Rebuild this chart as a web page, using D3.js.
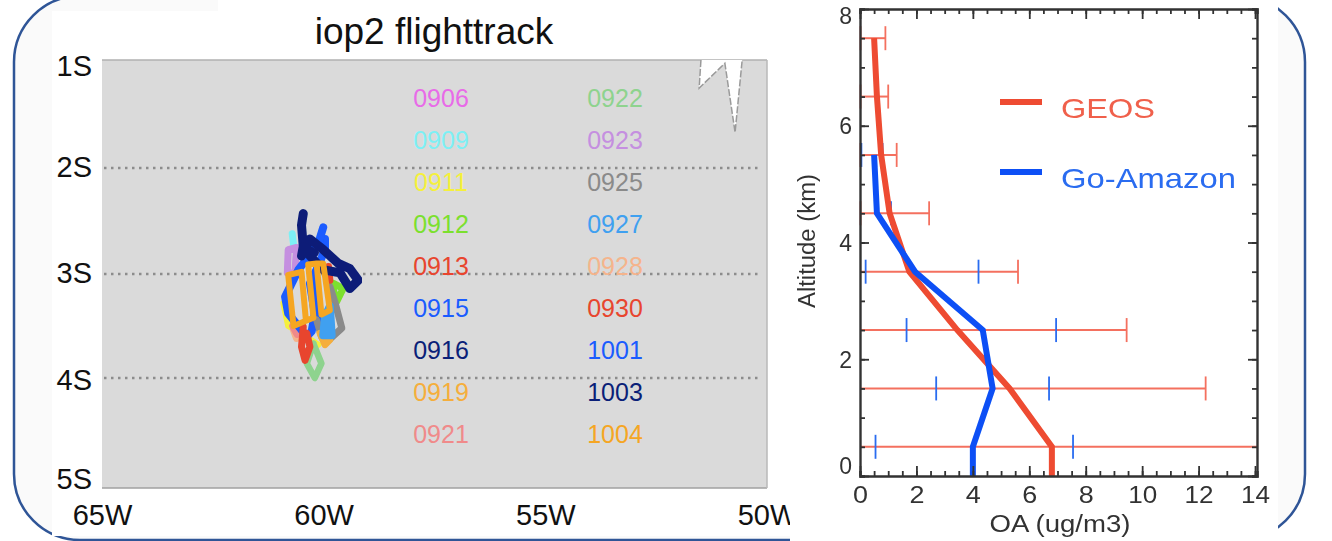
<!DOCTYPE html>
<html><head><meta charset="utf-8">
<script src="https://cdn.jsdelivr.net/npm/d3@7"></script>
<style>html,body{margin:0;padding:0;background:#fff}svg{display:block}text{font-family:"Liberation Sans",Arial,sans-serif}</style>
</head><body><div id="c"></div>
<script>
// ---- Left map data (lon, lat)
const latTicks=[-1,-2,-3,-4,-5];
const latLabels=["1S","2S","3S","4S","5S"];
const lonTicks=[-65,-60,-55,-50];
const lonLabels=["65W","60W","55W","50W"];
const gridLats=[-2,-3,-4];
const coast=[[-51.49,-1],[-51.53,-1.26],[-50.95,-1.03],[-50.72,-1.67],[-50.56,-1]];
const dates1=["0906","0909","0911","0912","0913","0915","0916","0919","0921"];
const colors1=["#e86be8","#7df0f5","#f5f03c","#7be02e","#e8452e","#1a5cff","#0a1f78","#f5ae3c","#f08a8a"];
const dates2=["0922","0923","0925","0927","0928","0930","1001","1003","1004"];
const colors2=["#8ed38e","#c58fe0","#8a8a8a","#3fa0f0","#f5b48c","#e8452e","#1a5cff","#0a1f78","#f5a623"];
const t0906=[[-60.42,-2.82],[-60.31,-2.74]];
const t0909=[[-60.71,-2.62],[-60.68,-2.72],[-60.6,-2.8]];
const t0911=[[-60.91,-3.28],[-60.8,-3.5],[-60.4,-3.6],[-60.12,-3.68]];
const t0912=[[-59.78,-3.09],[-59.56,-3.14],[-59.71,-3.27],[-59.8,-3.12]];
const t0913=[[-60.46,-3.51],[-60.5,-3.7],[-60.42,-3.83],[-60.31,-3.7],[-60.38,-3.57]];
const t0915=[[-60.01,-2.56],[-60.12,-2.71],[-60.46,-2.9],[-60.57,-2.96],[-60.87,-3.22],[-60.8,-3.38],[-60.38,-3.6],[-60.27,-3.55],[-60.2,-3.38],[-60.31,-3.09],[-60.08,-2.9]];
const t0916=[[-60.46,-2.43],[-60.5,-2.54],[-60.46,-2.74],[-60.5,-2.83],[-60.31,-2.67],[-60.01,-2.77],[-59.67,-2.9],[-59.41,-2.95],[-59.22,-3.06],[-59.41,-3.14],[-59.63,-2.99],[-60.01,-2.96],[-60.31,-2.83]];
const t0919=[[-60.08,-3.57],[-59.97,-3.68],[-59.86,-3.63],[-59.89,-3.47]];
const t0921=[[-60.7,-3.5],[-60.6,-3.58]];
const t0922=[[-60.23,-3.67],[-60.05,-3.86],[-60.2,-4],[-60.38,-3.86],[-60.23,-3.67]];
const t0923=[[-60.61,-2.75],[-60.8,-2.77],[-60.82,-2.99],[-60.65,-2.99],[-60.61,-2.75]];
const t0925=[[-60.16,-3.44],[-60.05,-3.6],[-59.95,-3.66],[-59.59,-3.52],[-59.74,-3.28],[-59.86,-3.12]];
const t0927=[[-59.97,-3.41],[-60.01,-3.59],[-59.82,-3.59],[-59.86,-3.31],[-59.97,-3.41]];
const t0928=[[-60.68,-3.54],[-60.61,-3.62],[-60.46,-3.57]];
const t0930=[[-59.89,-2.93],[-59.86,-3.06]];
const t1001=[[-59.97,-2.67],[-59.97,-2.77],[-60.2,-3.0],[-60.1,-3.5]];
const t1003=[[-60.46,-2.74],[-60.2,-2.8]];
const t1004=[[-60.4,-3.45],[-60.68,-3.5],[-60.8,-3.01],[-60.5,-2.98],[-60.4,-3.45],[-60.23,-3.42],[-60.35,-2.91],[-60.16,-2.9],[-60.05,-3.39],[-59.86,-3.35],[-60.01,-2.9],[-60.16,-2.9]];
// draw order, bottom to top
const trackOrder=[["0911",t0911,"#f5f03c",6],["0909",t0909,"#7df0f5",7],["0928",t0928,"#f5b48c",7],["0921",t0921,"#f08a8a",7],["0923",t0923,"#c58fe0",7],["0906",t0906,"#c58fe0",6],["1001",t1001,"#1a5cff",8],["0915",t0915,"#1a5cff",8],["0912",t0912,"#7be02e",7],["0925",t0925,"#8a8a8a",7],["0919",t0919,"#f5ae3c",7],["0927",t0927,"#3fa0f0",8],["0922",t0922,"#8ed38e",6.5],["0913",t0913,"#e8452e",7],["0930",t0930,"#e8452e",7],["0916",t0916,"#0a1f78",9],["1003",t1003,"#0a1f78",8],["1004",t1004,"#f5a623",6]];

// ---- Right profile data
const xTicks=[0,2,4,6,8,10,12,14];
const yTicks=[0,2,4,6,8];
const levels=[0.5,1.5,2.5,3.5,4.5,5.5,6.5,7.5];
const geosAlt=[0,0.5,1.5,2.5,3.5,4.5,5.5,6.5,7.5];
const geosOA=[6.8,6.8,5.3,3.45,1.75,1.05,0.75,0.6,0.5];
const amazonAlt=[0,0.5,1.5,2.5,3.5,4.5,5.5];
const amazonOA=[4.0,4.0,4.7,4.35,1.95,0.6,0.5];
const geosHi=[14.1,12.25,9.45,5.6,2.45,1.3,1.0,0.9];
const amazonLo=[0.55,2.7,1.65,0.2,null,0.05,null,null];
const amazonHi=[7.55,6.7,6.95,4.2,1.1,0.8,null,null];

const W=1332,H=541;
const svg=d3.select("#c").append("svg").attr("width",W).attr("height",H);
const defs=svg.append("defs");
defs.append("filter").attr("id","soft").attr("x","-5%").attr("y","-5%").attr("width","110%").attr("height","110%").append("feGaussianBlur").attr("stdDeviation",0.5);

// slide background
svg.append("rect").attr("x",14).attr("y",-4).attr("width",1291).attr("height",544).attr("rx",66).attr("ry",66)
  .attr("fill","#fafafa").attr("stroke","#2f5597").attr("stroke-width",2.5);
svg.append("rect").attr("x",52).attr("y",11).attr("width",738).attr("height",525).attr("fill","#fff");
svg.append("rect").attr("x",218).attr("y",0).attr("width",1060).attr("height",11).attr("fill","#fff");
svg.append("rect").attr("x",790).attr("y",0).attr("width",488).attr("height",541).attr("fill","#fff");

// ---- map
const mx=d3.scaleLinear().domain([-65,-50]).range([102,767]);
const my=d3.scaleLinear().domain(latTicks).range([60,168,274,378,488]);
const map=svg.append("g");
map.append("rect").attr("x",mx(-65)).attr("y",my(-1)).attr("width",mx(-50)-mx(-65)).attr("height",my(-5)-my(-1)).attr("fill","#dadada");
map.append("line").attr("x1",102).attr("x2",767).attr("y1",60).attr("y2",60).attr("stroke","#b0b0b0").attr("stroke-width",1.5);
map.append("line").attr("x1",102).attr("x2",767).attr("y1",488).attr("y2",488).attr("stroke","#a0a0a0").attr("stroke-width",1.5);
map.append("line").attr("x1",767).attr("x2",767).attr("y1",60).attr("y2",488).attr("stroke","#b8b8b8").attr("stroke-width",1.5);
map.selectAll(".grid").data(gridLats).join("line").attr("x1",104).attr("x2",760)
  .attr("y1",d=>my(d)).attr("y2",d=>my(d)).attr("stroke","#8c8c8c").attr("stroke-width",2.5).attr("stroke-dasharray","2.5,4.5");
map.append("path").attr("d",d3.line().x(d=>mx(d[0])).y(d=>my(d[1]))(coast)).attr("fill","#fff")
  .attr("stroke","#9a9a9a").attr("stroke-width",1.5).attr("stroke-dasharray","7,2");
const tl=d3.line().x(d=>mx(d[0])).y(d=>my(d[1])).curve(d3.curveLinear);
map.append("g").attr("filter","url(#soft)").selectAll(".track").data(trackOrder).join("path").attr("d",d=>tl(d[1])).attr("fill","none")
  .attr("stroke",d=>d[2]).attr("stroke-width",d=>d[3]).attr("stroke-linejoin","round").attr("stroke-linecap","round");
function dateCol(dates,colors,cx){
  map.selectAll(null).data(dates).join("text").attr("x",cx).attr("y",(d,i)=>98+i*42+9)
   .attr("text-anchor","middle").attr("font-size",25).attr("fill",(d,i)=>colors[i]).text(d=>d);
}
dateCol(dates1,colors1,441);
dateCol(dates2,colors2,615);
map.append("text").attr("x",434).attr("y",44).attr("text-anchor","middle").attr("font-size",37).attr("fill","#111").text("iop2 flighttrack");
const mapY=d3.axisLeft(my).tickValues(latTicks).tickSize(0).tickPadding(10).tickFormat((d,i)=>latLabels[i]);
const gy=map.append("g").attr("transform","translate(102,0)").call(mapY);
gy.select(".domain").remove();
gy.selectAll("text").attr("font-size",29).attr("fill","#111").style("font-family",'"Liberation Sans"').attr("dy",(d,i)=>[".55em",".3em",".3em",".4em",".0em"][i]);
const mapX=d3.axisBottom(mx).tickValues(lonTicks).tickSize(0).tickPadding(16).tickFormat((d,i)=>lonLabels[i]);
const gx=map.append("g").attr("transform","translate(0,488)").call(mapX);
gx.select(".domain").remove();
gx.selectAll("text").attr("font-size",29).attr("fill","#111").style("font-family",'"Liberation Sans"');
// 50W is cut off by the panel on the right
svg.append("rect").attr("x",790).attr("y",495).attr("width",40).attr("height",46).attr("fill","#fff");

// ---- profile
const px=d3.scaleLinear().domain([0,14.07]).range([860,1257]);
const py=d3.scaleLinear().domain([0,8]).range([476,9]);
const plot=svg.append("g").attr("filter","url(#soft)");
defs.append("clipPath").attr("id","pc").append("rect").attr("x",858).attr("y",9).attr("width",400).attr("height",467);
const pl=plot.append("g").attr("clip-path","url(#pc)");
const tc="#333";
function frameAxes(){
  const minorX=d3.range(0,14.01,0.5), minorY=d3.range(0,8.01,0.5);
  const mk=(axis,vals,size)=>axis.tickValues(vals).tickSize(size).tickFormat("");
  const style=g=>{g.selectAll("line").attr("stroke",tc).attr("stroke-width",1.8);g.select(".domain").attr("stroke",tc).attr("stroke-width",2.4);};
  plot.append("g").attr("transform","translate(0,476)").call(mk(d3.axisBottom(px).tickSizeOuter(0),minorX,-5)).call(style);
  plot.append("g").attr("transform","translate(0,9)").call(mk(d3.axisTop(px).tickSizeOuter(0),minorX,-5)).call(style);
  plot.append("g").attr("transform","translate(860,0)").call(mk(d3.axisLeft(py).tickSizeOuter(0),minorY,-5)).call(style);
  plot.append("g").attr("transform","translate(1257,0)").call(mk(d3.axisRight(py).tickSizeOuter(0),minorY,-5)).call(style);
  const bx=plot.append("g").attr("transform","translate(0,476)").call(d3.axisBottom(px).tickValues(xTicks).tickSize(-10).tickSizeOuter(0).tickPadding(9).tickFormat(d3.format("d"))).call(style);
  bx.select(".domain").remove();
  bx.selectAll("text").attr("font-size",23).attr("fill","#333").attr("dy","0.8em").style("font-family",'"Liberation Sans"').attr("textLength",d=>d>=10?29:15).attr("lengthAdjust","spacingAndGlyphs");
  const tx=plot.append("g").attr("transform","translate(0,9)").call(d3.axisTop(px).tickValues(xTicks).tickSize(-10).tickSizeOuter(0).tickFormat(""));
  tx.call(style);tx.select(".domain").remove();
  const ly=plot.append("g").attr("transform","translate(860,0)").call(d3.axisLeft(py).tickValues(yTicks).tickSize(-9).tickSizeOuter(0).tickPadding(8).tickFormat(d3.format("d"))).call(style);
  ly.select(".domain").remove();
  ly.selectAll("text").attr("font-size",23).attr("fill","#333").attr("dy",(d,i)=>i==0?"-0.1em":i==4?"0.65em":"0.35em").style("font-family",'"Liberation Sans"');
  const ry=plot.append("g").attr("transform","translate(1257,0)").call(d3.axisRight(py).tickValues(yTicks).tickSize(-9).tickSizeOuter(0).tickFormat(""));
  ry.call(style);ry.select(".domain").remove();
}
frameAxes();
// error bars
const capH=12;
const levelsIdx=levels.map((a,i)=>i);
pl.selectAll(".gh").data(levelsIdx).join("line").attr("x1",px(0)).attr("x2",i=>px(geosHi[i])).attr("y1",i=>py(levels[i])).attr("y2",i=>py(levels[i])).attr("stroke","#f4705f").attr("stroke-width",2);
pl.selectAll(".gc").data(levelsIdx).join("line").attr("x1",i=>px(geosHi[i])).attr("x2",i=>px(geosHi[i])).attr("y1",i=>py(levels[i])-capH).attr("y2",i=>py(levels[i])+capH).attr("stroke","#f4705f").attr("stroke-width",1.8);
pl.selectAll(".gl").data(levelsIdx.filter(i=>i>=4)).join("line").attr("x1",px(0)+0.5).attr("x2",px(0)+0.5).attr("y1",i=>py(levels[i])-capH).attr("y2",i=>py(levels[i])+capH).attr("stroke","#f4705f").attr("stroke-width",1.8);
[amazonLo,amazonHi].forEach(arr=>{
  pl.selectAll(null).data(levelsIdx.filter(i=>arr[i]!==null)).join("line").attr("x1",i=>px(arr[i])).attr("x2",i=>px(arr[i])).attr("y1",i=>py(levels[i])-capH).attr("y2",i=>py(levels[i])+capH).attr("stroke","#2a6cf0").attr("stroke-width",1.8);
});
const pline=(xs,ys)=>d3.line().x(d=>px(xs[d])).y(d=>py(ys[d]))(d3.range(xs.length));
pl.append("path").attr("d",pline(geosOA,geosAlt)).attr("fill","none").attr("stroke","#ee4b30").attr("stroke-width",6);
pl.append("path").attr("d",pline(amazonOA,amazonAlt)).attr("fill","none").attr("stroke","#0a50f5").attr("stroke-width",6);
// labels
plot.append("text").attr("x",1060).attr("y",532).attr("text-anchor","middle").attr("font-size",23).attr("fill","#333").attr("textLength",141).attr("lengthAdjust","spacingAndGlyphs").text("OA (ug/m3)");
plot.append("text").attr("transform","translate(815,241) rotate(-90)").attr("text-anchor","middle").attr("font-size",23).attr("fill","#333").attr("textLength",134).attr("lengthAdjust","spacingAndGlyphs").text("Altitude (km)");
// legend
const legend=[["GEOS","#ee4b30","#f0604c",102,94],["Go-Amazon","#0a50f5","#2a6cf0",172,175]];
legend.forEach(([t,c,tcx,y,w])=>{
  plot.append("line").attr("x1",1000).attr("x2",1042).attr("y1",y).attr("y2",y).attr("stroke",c).attr("stroke-width",6);
  plot.append("text").attr("x",1061).attr("y",y+16).attr("font-size",28).attr("fill",tcx).attr("textLength",w).attr("lengthAdjust","spacingAndGlyphs").text(t);
});
</script></body></html>
